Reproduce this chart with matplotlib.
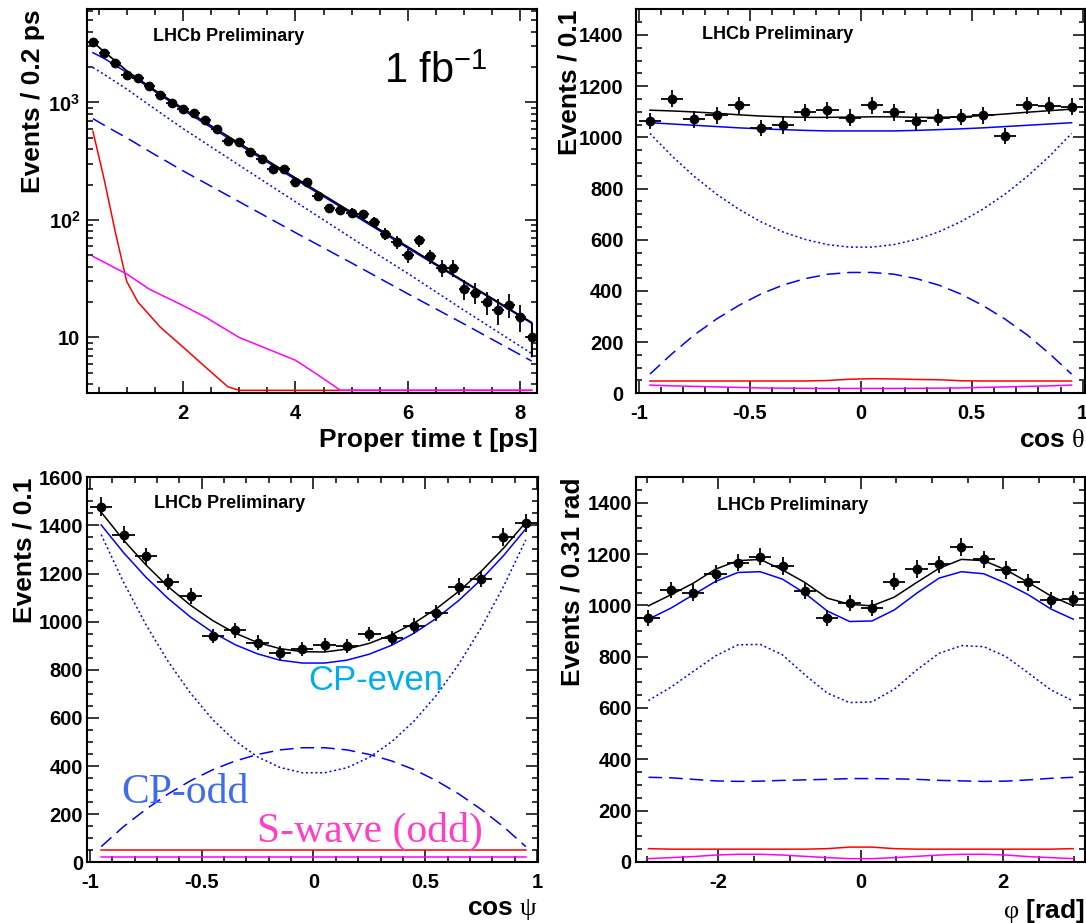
import numpy as np
import matplotlib
matplotlib.use('Agg')
import matplotlib.pyplot as plt
from matplotlib.ticker import MultipleLocator, FixedLocator, FixedFormatter, LogLocator, NullFormatter, FuncFormatter

plt.rcParams['font.family'] = 'Liberation Sans'
plt.rcParams['font.weight'] = 'bold'
plt.rcParams['axes.labelweight'] = 'bold'
plt.rcParams['mathtext.fontset'] = 'custom'
plt.rcParams['mathtext.rm'] = 'Liberation Sans:weight=normal'
plt.rcParams['mathtext.bf'] = 'Liberation Sans:weight=bold'
plt.rcParams['mathtext.it'] = 'Liberation Serif:weight=normal'
plt.rcParams['axes.unicode_minus'] = False
plt.rcParams['axes.linewidth'] = 1.5

# ---------------- proper time panel ----------------
t_data = [0.4, 0.6, 0.8, 1.0, 1.2, 1.4, 1.6, 1.8, 2.0, 2.2,
          2.4, 2.6, 2.8, 3.0, 3.2, 3.4, 3.6, 3.8, 4.0, 4.2,
          4.4, 4.6, 4.8, 5.0, 5.2, 5.4, 5.6, 5.8, 6.0, 6.2,
          6.4, 6.6, 6.8, 7.0, 7.2, 7.4, 7.6, 7.8, 8.0, 8.2]
n_time = [3245, 2618, 2153, 1706, 1619, 1367, 1146, 987, 884, 812,
          713, 594, 467, 461, 382, 331, 269, 269, 210, 210,
          160, 126, 121, 115, 112, 97, 76, 65, 50, 67,
          49, 39, 39, 26, 24, 20, 17, 19, 15, 10]

t_fit = [0.4, 0.6, 0.8, 1.0, 1.5, 2.0, 3.0, 4.0, 5.0, 6.0, 7.0, 8.2]
time_signal = [2650, 2370, 2065, 1800, 1240, 862, 435, 221, 113, 57.5, 29.5, 13.2]
time_even = [1980, 1730, 1500, 1300, 880, 600, 292, 143, 70, 35, 17, 7.3]
time_odd = [728, 640, 565, 500, 360, 262, 143, 78, 43, 23.5, 13, 6.3]
t_total = [0.4, 0.6, 0.8, 1.0, 1.5, 2.0, 3.0, 4.0, 5.0, 6.0, 7.0, 8.2, 8.2]
time_total = [3260, 2700, 2250, 1860, 1270, 890, 450, 228, 116, 59, 30, 13.4, 6.9]
t_bkg = [0.4, 0.6, 0.8, 1.0, 1.2, 1.6, 2.0, 2.4, 2.8, 3.0, 4.0, 6.0, 8.2]
time_bkg = [568, 221, 78, 30, 20, 12.2, 8.3, 5.6, 3.8, 3.3, 1.5, 0.4, 0.1]
t_sw = [0.4, 1.0, 1.4, 2.0, 2.4, 3.0, 4.0, 4.4, 4.8, 6.0, 8.2]
time_swave = [49, 34.7, 25.8, 18.7, 14.9, 10, 6.4, 4.8, 3.3, 1.8, 0.6]

# ---------------- cos theta panel ----------------
cos_centers = [-0.95, -0.85, -0.75, -0.65, -0.55, -0.45, -0.35, -0.25, -0.15, -0.05,
               0.05, 0.15, 0.25, 0.35, 0.45, 0.55, 0.65, 0.75, 0.85, 0.95]
n_ctheta = [1064, 1151, 1071, 1086, 1125, 1037, 1047, 1097, 1106, 1077,
            1125, 1097, 1062, 1077, 1079, 1086, 1005, 1125, 1123, 1119]
ctheta_total = [1106, 1103, 1099, 1094, 1088, 1083, 1080, 1078, 1078, 1079,
                1080, 1080, 1078, 1078, 1080, 1085, 1091, 1098, 1104, 1110]
ctheta_signal = [1057, 1052, 1047, 1042, 1037, 1033, 1030, 1027, 1025, 1025,
                 1025, 1025, 1027, 1030, 1033, 1037, 1042, 1047, 1052, 1057]
ctheta_even = [1015, 926, 847, 778, 719, 670, 630, 601, 581, 571,
               571, 581, 601, 630, 670, 719, 778, 847, 926, 1015]
ctheta_odd = [75, 155, 228, 290, 343, 388, 423, 448, 465, 472,
              472, 465, 448, 423, 388, 343, 290, 228, 155, 75]
ctheta_bkg = [48, 48, 48, 48, 48, 48, 48, 48, 50, 55,
              57, 56, 54, 53, 49, 48, 48, 48, 48, 48]
ctheta_swave = [32, 29, 27, 25, 23, 21, 20, 19.5, 19, 19,
                19, 19, 19.5, 20, 21, 23, 25, 27, 29, 32]

# ---------------- cos psi panel ----------------
n_cpsi = [1478, 1362, 1272, 1164, 1106, 940, 964, 913, 870, 885,
          902, 899, 949, 932, 982, 1036, 1146, 1178, 1353, 1409]
cpsi_total = [1455, 1339, 1236, 1145, 1068, 1004, 952, 913, 888, 875,
              874, 886, 910, 946, 994, 1054, 1126, 1209, 1305, 1413]
cpsi_signal = [1402, 1287, 1185, 1096, 1019, 955, 904, 866, 840, 828,
               828, 840, 865, 902, 952, 1014, 1088, 1175, 1274, 1386]
cpsi_even = [1362, 1164, 988, 834, 702, 592, 504, 438, 394, 372,
             372, 393, 436, 501, 587, 694, 823, 974, 1146, 1340]
cpsi_odd = [65, 148, 220, 284, 339, 385, 421, 448, 467, 476,
            476, 467, 448, 421, 385, 339, 284, 220, 148, 65]
cpsi_bkg = [51] * 20
cpsi_swave = [21] * 20

# ---------------- phi panel ----------------
phi_centers = [-2.985, -2.670, -2.356, -2.042, -1.728, -1.414, -1.100, -0.785, -0.471, -0.157,
               0.157, 0.471, 0.785, 1.100, 1.414, 1.728, 2.042, 2.356, 2.670, 2.985]
n_phi = [950, 1060, 1050, 1122, 1166, 1190, 1153, 1056, 952, 1008,
         989, 1092, 1141, 1160, 1226, 1179, 1138, 1089, 1021, 1024]
phi_total = [998, 1041, 1086, 1141, 1174, 1179, 1138, 1089, 1028, 1004,
             998, 1032, 1089, 1144, 1179, 1174, 1138, 1089, 1037, 998]
phi_signal = [946, 989, 1041, 1093, 1128, 1131, 1102, 1047, 978, 937,
              939, 982, 1047, 1106, 1131, 1123, 1086, 1041, 986, 946]
phi_even = [629, 681, 742, 803, 846, 848, 807, 729, 658, 621,
            624, 673, 748, 813, 843, 839, 800, 736, 671, 627]
phi_odd = [330, 328, 322, 316, 314, 315, 318, 320, 322, 325,
           325, 324, 322, 318, 316, 314, 315, 320, 326, 330]
phi_bkg = [52, 50, 50, 50, 50, 50, 50, 50, 52, 58,
           58, 52, 50, 50, 50, 50, 50, 50, 50, 52]
phi_swave = [13, 17, 21, 27, 30, 30, 27, 22, 17, 13,
             13, 17, 22, 27, 30, 30, 27, 21, 17, 13]

DOTTED = (0, (1.3, 1.8))
DASHED = (0, (9, 4.5))
LW = 1.1


def style_axes(ax, lhcb_xy, ypad):
    ax.tick_params(which='both', direction='in', top=True, right=True,
                   width=1.1, labelsize=14.5)
    ax.tick_params(which='major', length=8.6)
    ax.tick_params(which='minor', length=4.5)
    ax.tick_params(axis='x', pad=8.0)
    ax.tick_params(axis='y', pad=ypad)
    ax.text(lhcb_xy[0], lhcb_xy[1], 'LHCb Preliminary', transform=ax.transAxes,
            fontsize=13, fontweight='bold', va='center')


def set_labels(ax, xlabel, ylabel, ylx):
    ax.set_xlabel(xlabel, fontsize=19, fontweight='bold', loc='right', va='top')
    ax.xaxis.set_label_coords(1.0, -0.09)
    ax.set_ylabel(ylabel, fontsize=19, fontweight='bold', loc='top', va='center')
    ax.yaxis.set_label_coords(ylx, 1.0)


def draw_points(ax, x, n, xerr):
    ax.errorbar(x, n, yerr=np.sqrt(n), xerr=xerr, fmt='o', color='black',
                ms=6, elinewidth=1.3, capsize=0, zorder=5)


def draw_components(ax, x, total, signal, even, odd, bkg, swave):
    ax.plot(x, even, color='blue', lw=LW, ls=DOTTED)
    ax.plot(x, odd, color='blue', lw=LW, ls=DASHED)
    ax.plot(x, bkg, color='red', lw=LW)
    ax.plot(x, swave, color='magenta', lw=LW)
    ax.plot(x, signal, color='blue', lw=LW)
    ax.plot(x, total, color='black', lw=LW)


fmt_g = FuncFormatter(lambda v, p: '%g' % v)

fig = plt.figure(figsize=(10.86, 9.23), dpi=100)

# Proper time (log scale)
ax1 = fig.add_axes([0.0804, 0.5739, 0.4144, 0.4160])
ylo = 3.35
ax1.set_yscale('log')
ax1.set_xlim(0.3, 8.3)
ax1.set_ylim(ylo, 6200)
ax1.plot(t_fit, time_even, color='blue', lw=LW, ls=DOTTED)
ax1.plot(t_fit, time_odd, color='blue', lw=LW, ls=DASHED)
# components below the axis range are drawn along the bottom edge, as ROOT does
ax1.plot(t_bkg, np.clip(time_bkg, ylo * 1.06, None), color='red', lw=LW)
ax1.plot(t_sw, np.clip(time_swave, ylo * 1.06, None), color='magenta', lw=LW)
ax1.plot(t_fit, time_signal, color='blue', lw=LW)
ax1.plot(t_total, time_total, color='black', lw=1.2)
draw_points(ax1, t_data, n_time, 0.1)
ax1.xaxis.set_major_locator(FixedLocator([2, 4, 6, 8]))
ax1.xaxis.set_minor_locator(MultipleLocator(0.5))
ax1.yaxis.set_major_locator(FixedLocator([10, 100, 1000]))
ax1.yaxis.set_major_formatter(FixedFormatter(['10', r'$\mathbf{10^{2}}$', r'$\mathbf{10^{3}}$']))
ax1.yaxis.set_minor_locator(LogLocator(base=10, subs=np.arange(2, 10)))
ax1.yaxis.set_minor_formatter(NullFormatter())
style_axes(ax1, (0.147, 0.928), 5.0)
set_labels(ax1, 'Proper time t [ps]', 'Events / 0.2 ps', -0.121)
ax1.text(5.58, 1460, r'1 fb$^{\mathrm{-1}}$', fontsize=30, fontweight='normal', va='baseline')

# cos theta
ax2 = fig.add_axes([0.5856, 0.5739, 0.4134, 0.4160])
ax2.set_xlim(-1.013, 1.01)
ax2.set_ylim(0, 1500)
draw_components(ax2, cos_centers, ctheta_total, ctheta_signal, ctheta_even,
                ctheta_odd, ctheta_bkg, ctheta_swave)
draw_points(ax2, cos_centers, n_ctheta, 0.05)
ax2.xaxis.set_major_locator(MultipleLocator(0.5))
ax2.xaxis.set_minor_locator(MultipleLocator(0.1))
ax2.xaxis.set_major_formatter(fmt_g)
ax2.yaxis.set_major_locator(MultipleLocator(200))
ax2.yaxis.set_minor_locator(MultipleLocator(50))
style_axes(ax2, (0.148, 0.935), 9.0)
set_labels(ax2, r'cos $\theta$', 'Events / 0.1', -0.148)

# cos psi
ax3 = fig.add_axes([0.0804, 0.0658, 0.4153, 0.4171])
ax3.set_xlim(-1.012, 1.006)
ax3.set_ylim(0, 1600)
draw_components(ax3, cos_centers, cpsi_total, cpsi_signal, cpsi_even,
                cpsi_odd, cpsi_bkg, cpsi_swave)
draw_points(ax3, cos_centers, n_cpsi, 0.05)
ax3.xaxis.set_major_locator(MultipleLocator(0.5))
ax3.xaxis.set_minor_locator(MultipleLocator(0.1))
ax3.xaxis.set_major_formatter(fmt_g)
ax3.yaxis.set_major_locator(MultipleLocator(200))
ax3.yaxis.set_minor_locator(MultipleLocator(50))
style_axes(ax3, (0.148, 0.933), 3.0)
set_labels(ax3, r'cos $\psi$', 'Events / 0.1', -0.139)
ax3.text(-0.023, 715, 'CP-even', family='Liberation Sans', fontweight='normal',
         fontsize=25, color='#00aeef', va='baseline')
ax3.text(-0.862, 245, 'CP-odd', family='Liberation Serif', fontweight='normal',
         fontsize=30, color='#3e6cf0', va='baseline')
ax3.text(-0.254, 86, 'S-wave (odd)', family='Liberation Serif', fontweight='normal',
         fontsize=30, color='#ff3fc6', va='baseline')

# phi
ax4 = fig.add_axes([0.5856, 0.0661, 0.4134, 0.4171])
ax4.set_xlim(-3.16, 3.15)
ax4.set_ylim(0, 1500)
draw_components(ax4, phi_centers, phi_total, phi_signal, phi_even,
                phi_odd, phi_bkg, phi_swave)
draw_points(ax4, phi_centers, n_phi, 0.157)
ax4.xaxis.set_major_locator(MultipleLocator(2))
ax4.xaxis.set_minor_locator(MultipleLocator(0.5))
ax4.xaxis.set_major_formatter(fmt_g)
ax4.yaxis.set_major_locator(MultipleLocator(200))
ax4.yaxis.set_minor_locator(MultipleLocator(50))
style_axes(ax4, (0.18, 0.925), 3.0)
set_labels(ax4, r'$\varphi$ [rad]', 'Events / 0.31 rad', -0.142)

fig.savefig('out.png', dpi=100)
